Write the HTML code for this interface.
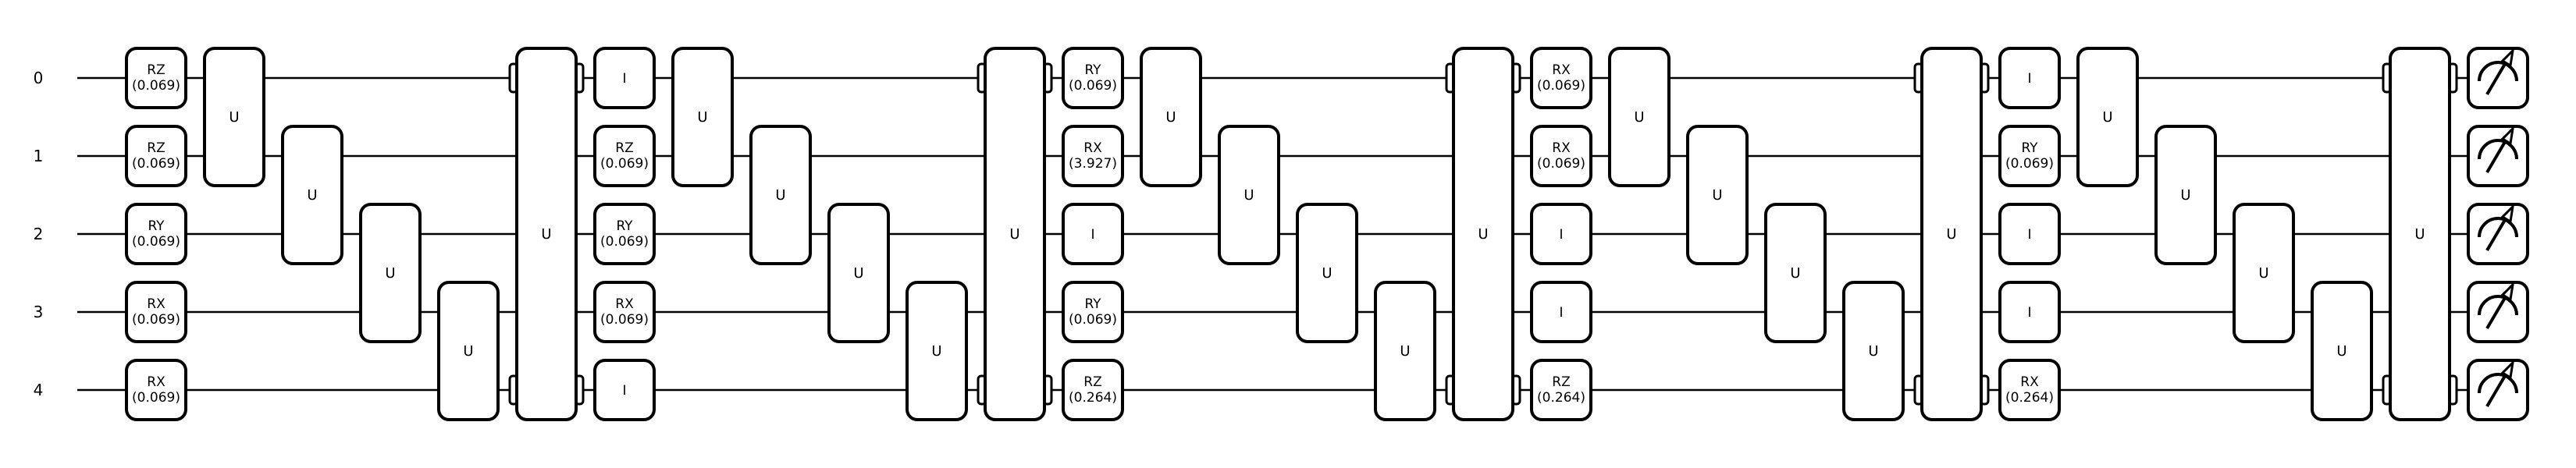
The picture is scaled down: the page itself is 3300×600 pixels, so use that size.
<!DOCTYPE html>
<html><head><meta charset="utf-8"><style>
html,body{margin:0;padding:0;background:#fff;}
svg{display:block;}
text{font-family:"DejaVu Sans","Liberation Sans",sans-serif;fill:#000;}
</style></head><body>
<svg id="c" width="3300" height="600" viewBox="0 0 3300 600" xmlns="http://www.w3.org/2000/svg"></svg>
<script>
const qubits = ["0","1","2","3","4"];
const singleCols = [0, 6, 12, 18, 24];
const singleNames = [
  ["RZ","RZ","RY","RX","RX"],
  ["I","RZ","RY","RX","I"],
  ["RY","RX","I","RY","RZ"],
  ["RX","RX","I","I","RZ"],
  ["I","RY","I","I","RX"]
];
const singleParams = [
  ["0.069","0.069","0.069","0.069","0.069"],
  ["","0.069","0.069","0.069",""],
  ["0.069","3.927","","0.069","0.264"],
  ["0.069","0.069","","","0.264"],
  ["","0.069","","","0.264"]
];
const twoQubitCols = [1,2,3,4, 7,8,9,10, 13,14,15,16, 19,20,21,22, 25,26,27,28];
const twoQubitTop = [0,1,2,3, 0,1,2,3, 0,1,2,3, 0,1,2,3, 0,1,2,3];
const bigCols = [5, 11, 17, 23, 29];
const measureCol = 30;

const NS = "http://www.w3.org/2000/svg";
const svg = document.getElementById("c");
const colX = c => 200 + 100 * c;
const wireY = q => 100 + 100 * q;
const W = 76, H = 76, R = 13;

function mk(tag, attrs, parent) {
  const e = document.createElementNS(NS, tag);
  for (const k in attrs) e.setAttribute(k, attrs[k]);
  (parent || svg).appendChild(e);
  return e;
}
// labels and wires
qubits.forEach((q, i) => {
  const t = mk("text", {x: 49, y: wireY(i) + 7, "font-size": 20, "text-anchor": "middle"});
  t.textContent = q;
  
  
  const l = mk("line", {x1: 99, x2: colX(measureCol), y1: wireY(i), y2: wireY(i), stroke: "#000", "stroke-width": 2.5});
  
  
});
function box(cx, y1, y2, name) {
  const g = mk("g", {});
  
  
  mk("rect", {x: cx - W/2, y: y1, width: W, height: y2 - y1, rx: R, ry: R, fill: "#fff", stroke: "#000", "stroke-width": 4}, g);
  return g;
}
// single gates
singleCols.forEach((c, bi) => {
  qubits.forEach((q, i) => {
    const g = box(colX(c), wireY(i) - 38, wireY(i) + 38, 'gate-' + singleNames[bi][i].toLowerCase() + '-c' + c + '-q' + i);
    const p = singleParams[bi][i];
    if (p) {
      const t1 = mk("text", {x: colX(c), y: wireY(i) - 5, "font-size": 17, "text-anchor": "middle"}, g);
      t1.textContent = singleNames[bi][i];
      const t2 = mk("text", {x: colX(c), y: wireY(i) + 15, "font-size": 17, "text-anchor": "middle"}, g);
      t2.textContent = "(" + p + ")";
    } else {
      const t = mk("text", {x: colX(c), y: wireY(i) + 6, "font-size": 17, "text-anchor": "middle"}, g);
      t.textContent = singleNames[bi][i];
    }
  });
});
// two-qubit U
twoQubitCols.forEach((c, k) => {
  const q = twoQubitTop[k];
  const g = box(colX(c), wireY(q) - 38, wireY(q + 1) + 38, 'gate-u-c' + c);
  const t = mk("text", {x: colX(c), y: (wireY(q) + wireY(q + 1)) / 2 + 6, "font-size": 18, "text-anchor": "middle"}, g);
  t.textContent = "U";
});
// big U with tabs
bigCols.forEach(c => {
  const g = mk("g", {});
  
  
  const cx = colX(c);
  [0, 4].forEach(q => {
    [cx - W/2 - 9, cx + W/2 - 1].forEach(x => {
      mk("rect", {x: x, y: wireY(q) - 18, width: 10, height: 36, rx: 4, ry: 4, fill: "#fff", stroke: "#000", "stroke-width": 3}, g);
    });
  });
  mk("rect", {x: cx - W/2, y: wireY(0) - 38, width: W, height: wireY(4) - wireY(0) + 76, rx: R, ry: R, fill: "#fff", stroke: "#000", "stroke-width": 4}, g);
  const t = mk("text", {x: cx, y: wireY(2) + 6, "font-size": 18, "text-anchor": "middle"}, g);
  t.textContent = "U";
});
// measurements
qubits.forEach((q, i) => {
  const cx = colX(measureCol), cy = wireY(i);
  const g = box(cx, cy - 38, cy + 38, 'measure-q' + i);
  mk("path", {d: `M ${cx-24} ${cy+4} A 24 24 0 0 1 ${cx+24} ${cy+4}`, fill: "none", stroke: "#000", "stroke-width": 4}, g);
  mk("line", {x1: cx - 14, y1: cy + 21, x2: cx + 16, y2: cy - 30, stroke: "#000", "stroke-width": 4}, g);
  mk("path", {d: `M ${cx+19} ${cy-35} L ${cx+16} ${cy-16} L ${cx+6} ${cy-22} Z`, fill: "#fff", stroke: "#000", "stroke-width": 3}, g);
});
</script>
</body></html>
